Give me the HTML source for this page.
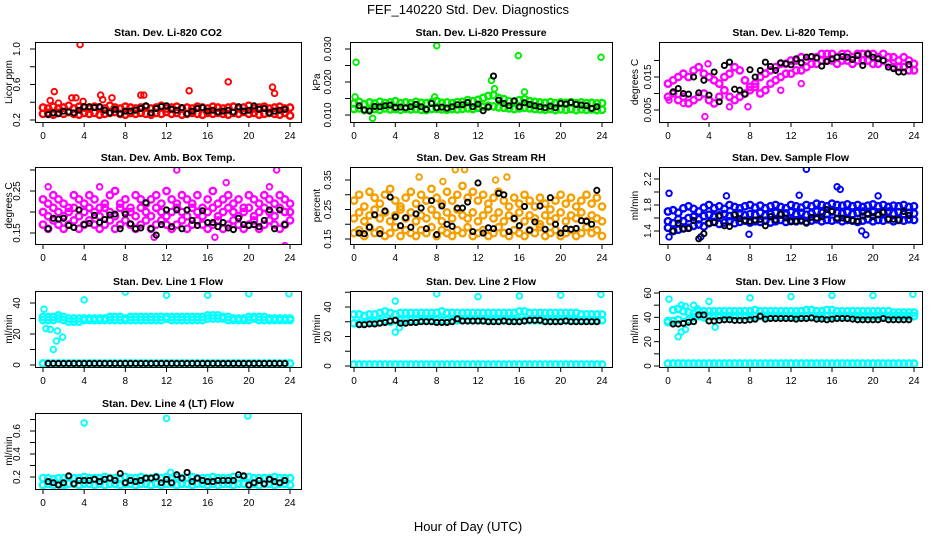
<!DOCTYPE html>
<html><head><meta charset="utf-8"><style>
html,body{margin:0;padding:0;background:#fff}
svg{display:block}
text{font-family:"Liberation Sans",sans-serif;fill:#000}
</style></head><body>
<svg id="chart" width="936" height="540" viewBox="0 0 936 540">
<text x="468" y="14" font-size="13" text-anchor="middle">FEF_140220  Std. Dev. Diagnostics</text>
<text x="468" y="531" font-size="13" text-anchor="middle">Hour of Day (UTC)</text>
</svg>
<script>
// ---------- data ----------
const xTicks = [0,4,8,12,16,20,24];
const titles = ["Stan. Dev. Li-820 CO2","Stan. Dev. Li-820 Pressure","Stan. Dev. Li-820 Temp.","Stan. Dev. Amb. Box Temp.","Stan. Dev. Gas Stream RH","Stan. Dev. Sample Flow","Stan. Dev. Line 1 Flow","Stan. Dev. Line 2 Flow","Stan. Dev. Line 3 Flow","Stan. Dev. Line 4 (LT) Flow"];
const yLabels = ["Licor ppm","kPa","degrees C","degrees C","percent","ml/min","ml/min","ml/min","ml/min","ml/min"];
const yTickVals = [[0.2,0.4,0.6,0.8,1.0],[0.010,0.015,0.020,0.025,0.030],[0.005,0.010,0.015,0.020],[0.15,0.20,0.25,0.30],[0.15,0.20,0.25,0.30,0.35],[1.4,1.6,1.8,2.0,2.2],[0,10,20,30,40],[0,10,20,30,40,50],[0,10,20,30,40,50,60],[0.2,0.3,0.4,0.5,0.6,0.7]];
const yTickLabels = [["0.2","","0.6","","1.0"],["0.010","","0.020","","0.030"],["0.005","","0.015",""],["0.15","","0.25",""],["0.15","","0.25","","0.35"],["1.4","","1.8","","2.2"],["0","","20","","40"],["0","","20","","40",""],["0","","20","","40","","60"],["0.2","","0.4","","0.6",""]];

const co2Hi=[0.34,0.33,0.35,0.33,0.34,0.36,0.33,0.35,0.34,0.33,0.35,0.34,0.33,0.36,0.34,0.33,0.35,0.34,0.33,0.34,0.35,0.33,0.34,0.36,0.33,0.34,0.35,0.33,0.34,0.33,0.35,0.34,0.33,0.35,0.34,0.33,0.34,0.35,0.33,0.34,0.36,0.33,0.34,0.35,0.33,0.34,0.35,0.33,0.34];
const co2Lo=[0.27,0.28,0.26,0.28,0.27,0.29,0.27,0.26,0.28,0.27,0.28,0.26,0.27,0.28,0.29,0.27,0.26,0.28,0.27,0.28,0.27,0.26,0.28,0.27,0.29,0.27,0.28,0.26,0.27,0.28,0.27,0.26,0.28,0.27,0.28,0.27,0.26,0.28,0.27,0.29,0.27,0.28,0.26,0.27,0.28,0.27,0.26,0.28,0.25];
const co2Blk=[0.26,0.28,0.27,0.30,0.29,0.28,0.31,0.35,0.35,0.34,0.35,0.31,0.28,0.32,0.27,0.30,0.30,0.31,0.33,0.36,0.28,0.33,0.35,0.36,0.32,0.31,0.34,0.27,0.30,0.33,0.34,0.30,0.31,0.29,0.30,0.31,0.29,0.35,0.30,0.31,0.36,0.32,0.33,0.28,0.30,0.31,0.32];
const co2Out=[[3.6,1.05],[1.1,0.52],[0.7,0.42],[2.8,0.45],[3.2,0.45],[5.6,0.48],[5.8,0.43],[6.7,0.45],[9.5,0.48],[9.8,0.48],[14.2,0.53],[18,0.63],[22.3,0.57],[22.5,0.5],[1.5,0.39],[3.9,0.41]];

const presHi=[0.0135,0.014,0.0133,0.0138,0.0135,0.014,0.0136,0.0138,0.0142,0.0136,0.0138,0.0135,0.014,0.0137,0.0136,0.0139,0.0142,0.0137,0.0138,0.0136,0.0139,0.014,0.0145,0.0142,0.0146,0.0152,0.0158,0.016,0.0152,0.0148,0.0142,0.014,0.0145,0.0148,0.0142,0.014,0.0138,0.0137,0.0139,0.0136,0.0138,0.0137,0.0139,0.0136,0.0138,0.0136,0.0137,0.0135,0.0136];
const presLo=[0.0118,0.012,0.0115,0.0117,0.0118,0.0116,0.012,0.0117,0.0118,0.0116,0.0119,0.0117,0.0118,0.0116,0.0115,0.0118,0.0119,0.0117,0.0116,0.0118,0.0117,0.0119,0.012,0.0118,0.0122,0.0125,0.0128,0.0126,0.0123,0.0122,0.012,0.0118,0.012,0.0122,0.012,0.0118,0.0117,0.0116,0.0118,0.0115,0.0117,0.0116,0.0118,0.0115,0.0117,0.0116,0.0117,0.0115,0.0116];
const presBlk=[0.0128,0.0115,0.0112,0.0126,0.0125,0.0128,0.013,0.0123,0.0124,0.0122,0.0125,0.0132,0.0125,0.0117,0.0135,0.0122,0.0124,0.0121,0.0125,0.0131,0.0131,0.0138,0.0125,0.0133,0.0113,0.0124,0.0218,0.0145,0.0135,0.0128,0.0143,0.0125,0.0137,0.0132,0.0128,0.0125,0.0122,0.0127,0.0122,0.0135,0.0133,0.0138,0.0132,0.0130,0.0128,0.012,0.0125];
const presOut=[[0.2,0.026],[8,0.031],[15.9,0.028],[23.9,0.0275],[13.3,0.0205],[13.6,0.018],[0.1,0.0155],[1.8,0.009],[16.5,0.017],[7.8,0.0155]];

const tempHi=[0.013,0.014,0.015,0.016,0.015,0.017,0.018,0.016,0.015,0.014,0.013,0.015,0.016,0.018,0.017,0.014,0.012,0.013,0.015,0.016,0.017,0.018,0.019,0.019,0.020,0.020,0.021,0.020,0.021,0.021,0.022,0.022,0.022,0.021,0.022,0.022,0.021,0.022,0.022,0.022,0.022,0.021,0.022,0.021,0.021,0.020,0.021,0.020,0.019];
const tempLo=[0.009,0.010,0.008,0.009,0.007,0.008,0.009,0.010,0.008,0.007,0.009,0.011,0.009,0.008,0.009,0.010,0.011,0.012,0.010,0.011,0.013,0.014,0.015,0.016,0.016,0.017,0.017,0.018,0.019,0.019,0.020,0.020,0.020,0.019,0.020,0.020,0.019,0.020,0.020,0.020,0.019,0.019,0.020,0.019,0.018,0.018,0.018,0.017,0.017];
const tempBlk=[0.0105,0.0115,0.0100,0.0098,0.0150,0.0102,0.0140,0.0095,0.0165,0.0075,0.0185,0.0195,0.0113,0.0110,0.0098,0.0172,0.0150,0.0170,0.0195,0.0182,0.0170,0.0193,0.0190,0.0187,0.0205,0.0193,0.0210,0.0212,0.0208,0.0183,0.0197,0.0205,0.0210,0.0212,0.0210,0.0203,0.0215,0.0185,0.0220,0.0210,0.0205,0.0200,0.0180,0.0175,0.0165,0.0165,0.0188];
const tempOut=[[3.6,0.003],[6.0,0.006],[0.1,0.008],[1.5,0.007],[3.9,0.019],[7.8,0.006],[13,0.013],[11,0.011]];

const ambHi=[0.23,0.22,0.24,0.23,0.22,0.21,0.24,0.23,0.22,0.24,0.23,0.21,0.22,0.24,0.25,0.22,0.23,0.21,0.24,0.23,0.22,0.23,0.24,0.22,0.25,0.23,0.22,0.24,0.23,0.22,0.24,0.21,0.23,0.25,0.22,0.23,0.24,0.22,0.23,0.21,0.24,0.23,0.22,0.24,0.23,0.22,0.24,0.23,0.22];
const ambMid=[0.20,0.19,0.21,0.20,0.19,0.20,0.21,0.19,0.20,0.21,0.20,0.19,0.21,0.20,0.19,0.21,0.20,0.20,0.19,0.21,0.20,0.19,0.21,0.20,0.19,0.20,0.21,0.20,0.19,0.21,0.20,0.19,0.20,0.21,0.19,0.20,0.21,0.20,0.19,0.20,0.21,0.19,0.20,0.21,0.20,0.19,0.21,0.20,0.20];
const ambLo=[0.17,0.16,0.18,0.17,0.16,0.17,0.18,0.16,0.17,0.18,0.17,0.16,0.17,0.18,0.16,0.17,0.18,0.17,0.16,0.17,0.18,0.16,0.17,0.18,0.17,0.16,0.17,0.18,0.16,0.17,0.18,0.17,0.16,0.17,0.18,0.16,0.17,0.18,0.17,0.16,0.17,0.18,0.16,0.17,0.18,0.17,0.16,0.17,0.18];
const ambBlk=[0.160,0.185,0.183,0.185,0.168,0.163,0.205,0.170,0.173,0.192,0.175,0.182,0.193,0.195,0.160,0.195,0.172,0.160,0.162,0.222,0.160,0.145,0.170,0.205,0.165,0.205,0.160,0.205,0.180,0.168,0.203,0.175,0.175,0.165,0.175,0.162,0.158,0.185,0.170,0.168,0.170,0.165,0.180,0.205,0.160,0.205,0.170];
const ambOut=[[13,0.30],[22.7,0.30],[23.5,0.12],[17.8,0.27],[22,0.26],[0.5,0.26],[5.5,0.26],[16.7,0.14],[10.8,0.14]];

const rhHi=[0.28,0.30,0.26,0.31,0.29,0.27,0.30,0.32,0.28,0.26,0.29,0.31,0.27,0.30,0.28,0.32,0.29,0.27,0.31,0.28,0.30,0.33,0.29,0.31,0.28,0.30,0.27,0.29,0.31,0.28,0.26,0.29,0.27,0.30,0.28,0.26,0.29,0.27,0.25,0.28,0.30,0.27,0.29,0.26,0.28,0.30,0.27,0.29,0.26];
const rhMid=[0.22,0.24,0.21,0.23,0.25,0.22,0.24,0.21,0.23,0.25,0.22,0.24,0.21,0.23,0.22,0.25,0.23,0.21,0.24,0.22,0.25,0.23,0.22,0.24,0.21,0.23,0.25,0.22,0.24,0.21,0.23,0.22,0.24,0.21,0.23,0.22,0.20,0.23,0.21,0.22,0.24,0.21,0.23,0.22,0.24,0.21,0.23,0.22,0.21];
const rhLo=[0.17,0.18,0.16,0.19,0.17,0.18,0.16,0.17,0.19,0.16,0.18,0.17,0.16,0.18,0.17,0.19,0.16,0.18,0.17,0.16,0.18,0.17,0.19,0.16,0.17,0.18,0.16,0.17,0.19,0.17,0.16,0.18,0.17,0.16,0.18,0.17,0.19,0.16,0.17,0.18,0.16,0.17,0.18,0.16,0.17,0.19,0.17,0.18,0.16];
const rhBlk=[0.170,0.168,0.190,0.232,0.168,0.245,0.292,0.225,0.195,0.222,0.190,0.235,0.255,0.185,0.280,0.165,0.262,0.200,0.193,0.255,0.255,0.275,0.175,0.340,0.170,0.188,0.185,0.305,0.300,0.175,0.220,0.195,0.260,0.180,0.208,0.262,0.183,0.290,0.200,0.170,0.185,0.183,0.186,0.212,0.210,0.200,0.315];
const rhOut=[[9.8,0.385],[10.7,0.385],[6.3,0.36],[8.6,0.345],[14.8,0.36],[13.7,0.35]];

const sfHi=[1.70,1.72,1.68,1.75,1.78,1.74,1.70,1.76,1.80,1.75,1.78,1.74,1.80,1.77,1.75,1.78,1.80,1.76,1.79,1.75,1.78,1.80,1.77,1.75,1.80,1.78,1.76,1.80,1.78,1.82,1.80,1.78,1.82,1.80,1.79,1.81,1.78,1.80,1.77,1.79,1.81,1.78,1.80,1.77,1.79,1.78,1.80,1.77,1.78];
const sfMid=[1.55,1.52,1.58,1.55,1.60,1.62,1.58,1.63,1.65,1.62,1.64,1.66,1.63,1.65,1.67,1.64,1.66,1.65,1.68,1.64,1.66,1.68,1.65,1.67,1.69,1.66,1.68,1.65,1.67,1.70,1.68,1.66,1.70,1.68,1.67,1.69,1.66,1.68,1.70,1.67,1.69,1.66,1.68,1.70,1.67,1.69,1.66,1.68,1.67];
const sfLo=[1.45,1.40,1.42,1.44,1.45,1.48,1.50,1.47,1.52,1.54,1.51,1.53,1.55,1.52,1.54,1.56,1.53,1.55,1.54,1.56,1.53,1.55,1.57,1.54,1.56,1.55,1.57,1.54,1.56,1.58,1.55,1.57,1.56,1.58,1.55,1.57,1.56,1.54,1.56,1.58,1.55,1.57,1.56,1.58,1.55,1.57,1.56,1.58,1.57];
const sfBlk=[1.40,1.52,1.43,1.44,1.56,1.28,1.36,1.52,1.53,1.63,1.48,1.47,1.65,1.59,1.56,1.55,1.57,1.58,1.48,1.62,1.57,1.66,1.60,1.54,1.55,1.55,1.52,1.61,1.60,1.62,1.73,1.70,1.60,1.60,1.58,1.56,1.55,1.63,1.66,1.62,1.65,1.69,1.58,1.58,1.57,1.70,1.64];
const sfOut=[[13.5,2.35],[16.5,2.08],[16.8,2.04],[0.1,1.98],[0.1,1.31],[3.2,1.31],[19.3,1.34],[18.9,1.40],[7.9,1.35],[12.8,1.95],[5.7,1.94],[20.5,1.94]];

const l1Hi=[31,31,31,32,31,30,30,30,30,30,30,30,30,31,31,31,30,31,31,31,31,31,31,31,31,31,31,31,31,31,31,31,32,32,32,31,31,30,30,30,31,31,31,31,30,30,30,30,30];
const l1Lo=[29,29,29,30,29,28,28,28,29,29,29,29,29,29,29,29,29,29,29,29,29,29,29,29,30,29,29,29,29,29,29,29,30,30,30,30,29,29,29,29,29,30,29,29,29,29,29,29,29];
const l1Base=[1,1,1,1,1,1,1,1,1,1,1,1,1,1,1,1,1,1,1,1,1,1,1,1,1,1,1,1,1,1,1,1,1,1,1,1,1,1,1,1,1,1,1,1,1,1,1,1,1];
const l1Blk=[1,1,1,1,1,1,1,1,1,1,1,1,1,1,1,1,1,1,1,1,1,1,1,1,1,1,1,1,1,1,1,1,1,1,1,1,1,1,1,1,1,1,1,1,1,1,1];
const l1Out=[[0.1,36],[0.3,23.5],[0.7,23],[1.4,22],[1.9,18],[1.3,15.5],[1.0,10],[4,42],[8,47],[12,45],[16,45],[20,46],[23.9,46]];

const l2Hi=[35,35,34,35,35,36,37,36,35,36,36,36,36,36,36,36,36,37,36,36,36,36,36,36,36,36,36,36,36,36,36,36,37,37,36,36,36,36,36,36,36,36,36,36,35,35,35,35,35];
const l2Lo=[29,29,29,30,30,30,31,30,31,31,31,31,31,31,31,31,31,31,31,31,31,31,31,31,31,31,31,31,31,31,31,31,31,31,31,31,31,31,31,31,31,31,31,31,31,31,31,31,31];
const l2Base=[1,1,1,1,1,1,1,1,1,1,1,1,1,1,1,1,1,1,1,1,1,1,1,1,1,1,1,1,1,1,1,1,1,1,1,1,1,1,1,1,1,1,1,1,1,1,1,1,1];
const l2Blk=[28,28,28.5,28.5,29,29.5,30.5,31,29,29,29.5,29.5,30,30,30,29.5,29.5,29.5,30,32,30.5,30.5,30.5,30.5,30.5,30,30,30,30.5,30,30,30,30.5,31,31,31,30,30,30,30,30.5,30,30,30,30,30,30];
const l2Out=[[4,44],[4,23],[4.4,26],[8,49],[12,47],[16,47.5],[20,48],[23.9,48.5]];

const l3Hi=[37,46,47,45,44,43,45,45,45,45,45,45,45,45,45,45,45,46,45,45,45,45,45,45,45,45,45,46,46,45,45,46,46,45,45,45,45,45,45,45,45,45,45,45,44,44,44,44,44];
const l3Lo=[36,37,38,36,38,40,41,40,41,41,41,41,41,41,41,41,41,41,41,41,41,41,41,41,41,41,41,41,41,41,41,41,41,41,41,41,41,41,41,41,41,41,41,41,41,41,41,41,41];
const l3Base=[2,2,2,2,2,2,2,2,2,2,2,2,2,2,2,2,2,2,2,2,2,2,2,2,2,2,2,2,2,2,2,2,2,2,2,2,2,2,2,2,2,2,2,2,2,2,2,2,2];
const l3Blk=[34.5,34.5,35,36,36.5,42,42,37,37,37.5,38,38,37.5,37.5,37.5,38,38.5,41,38.5,39,39,39,39,39,38.5,39,39,39.5,38.5,38.5,38,38.5,39,39,39,38.5,38,38,38,38,38,39,38,38,38,38,38];
const l3Out=[[0.1,55],[1.3,50],[1.7,49],[2.5,50],[2.9,47],[1,24],[1.3,28],[1.7,30],[4.6,32],[4,53],[8,56],[12,57],[16,58],[20,58],[23.9,59]];

const l4Hi=[0.19,0.19,0.18,0.19,0.19,0.2,0.19,0.19,0.2,0.19,0.19,0.19,0.2,0.19,0.19,0.19,0.2,0.19,0.19,0.2,0.19,0.19,0.2,0.19,0.2,0.19,0.2,0.19,0.19,0.2,0.19,0.19,0.19,0.2,0.19,0.19,0.19,0.2,0.19,0.2,0.2,0.19,0.19,0.19,0.19,0.2,0.19,0.19,0.19];
const l4Lo=[0.13,0.14,0.13,0.14,0.13,0.14,0.14,0.13,0.14,0.14,0.13,0.14,0.13,0.14,0.14,0.13,0.14,0.14,0.13,0.14,0.14,0.13,0.14,0.13,0.14,0.14,0.13,0.14,0.14,0.13,0.14,0.14,0.13,0.14,0.13,0.14,0.14,0.13,0.14,0.14,0.13,0.14,0.13,0.14,0.14,0.13,0.14,0.14,0.13];
const l4Blk=[0.16,0.15,0.13,0.15,0.21,0.14,0.17,0.17,0.17,0.18,0.16,0.18,0.19,0.17,0.23,0.15,0.17,0.16,0.17,0.19,0.19,0.20,0.15,0.18,0.15,0.22,0.19,0.24,0.16,0.19,0.17,0.16,0.16,0.17,0.17,0.17,0.17,0.22,0.21,0.13,0.15,0.17,0.14,0.18,0.16,0.15,0.17];
const l4Out=[[4,0.67],[12,0.71],[19.9,0.73],[12.4,0.24],[2,0.1]];

// ---------- layout (not data) ----------
const colX=[{l:35,r:301,x0:43,x24:290,tl:16,yl:8},{l:350,r:612,x0:354,x24:602,tl:327,yl:316},{l:659,r:922,x0:668,x24:914,tl:647,yl:634}];
const rowY=[{t:42,b:122},{t:167,b:244},{t:291,b:367},{t:413,b:489}];
const panels=[
 {c:0,r:0,cal:[0.2,120,1.0,49],col:"#ff0000",ser:[co2Hi,co2Lo],blk:co2Blk,out:co2Out},
 {c:1,r:0,cal:[0.010,115,0.030,49],col:"#00ee00",ser:[presHi,presLo],blk:presBlk,out:presOut},
 {c:2,r:0,cal:[0.005,110,0.015,77],col:"#ff00ff",ser:[tempHi,tempLo],blk:tempBlk,out:tempOut},
 {c:0,r:1,cal:[0.15,233,0.25,191],col:"#ff00ff",ser:[ambHi,ambMid,ambLo],blk:ambBlk,out:ambOut},
 {c:1,r:1,cal:[0.15,239,0.35,180],col:"#f5a000",ser:[rhHi,rhMid,rhLo],blk:rhBlk,out:rhOut},
 {c:2,r:1,cal:[1.4,231,2.2,179],col:"#0000ff",ser:[sfHi,sfMid,sfLo],blk:sfBlk,out:sfOut},
 {c:0,r:2,cal:[0,365,40,303],col:"#00ffff",ser:[l1Hi,l1Lo,l1Base],blk:l1Blk,out:l1Out},
 {c:1,r:2,cal:[0,366,40,307],col:"#00ffff",ser:[l2Hi,l2Lo,l2Base],blk:l2Blk,out:l2Out},
 {c:2,r:2,cal:[0,366,60,293],col:"#00ffff",ser:[l3Hi,l3Lo,l3Base],blk:l3Blk,out:l3Out},
 {c:0,r:3,cal:[0.2,477,0.6,431],col:"#00ffff",ser:[l4Hi,l4Lo],blk:l4Blk,out:l4Out}
];
const NS="http://www.w3.org/2000/svg";
const svg=document.getElementById('chart');
function mk(tag,attrs,parent){const e=document.createElementNS(NS,tag);for(const k in attrs)e.setAttribute(k,attrs[k]);(parent||svg).appendChild(e);return e;}
panels.forEach((p,i)=>{
  const C=colX[p.c],R=rowY[p.r];
  const xs=h=>C.x0+(C.x24-C.x0)*h/24;
  const ys=v=>p.cal[1]+(v-p.cal[0])*(p.cal[3]-p.cal[1])/(p.cal[2]-p.cal[0]);
  const g=mk('g',{});
  
  
  const defs=mk('clipPath',{id:'cp'+i},g);
  mk('rect',{x:C.l,y:R.t,width:C.r-C.l,height:R.b-R.t},defs);
  const pts=mk('g',{'clip-path':'url(#cp'+i+')'},g);
  
  
  p.ser.forEach(arr=>arr.forEach((v,k)=>{
    const c=mk('circle',{cx:xs(k*0.5),cy:ys(v),r:3.2,fill:'none',stroke:p.col,'stroke-width':2.4},pts);
    
    
  }));
  p.out.forEach(o=>{
    const c=mk('circle',{cx:xs(o[0]),cy:ys(o[1]),r:2.8,fill:'none',stroke:p.col,'stroke-width':1.9},pts);
    
    
  });
  p.blk.forEach((v,k)=>{
    const c=mk('circle',{cx:xs(0.5+k*0.5),cy:ys(v),r:2.6,fill:'none',stroke:'#000','stroke-width':1.9},pts);
    
    
  });
  const box=mk('rect',{x:C.l+0.5,y:R.t+0.5,width:C.r-C.l,height:R.b-R.t,fill:'none',stroke:'#000','stroke-width':1},g);
  
  
  xTicks.forEach(t=>{
    const x=xs(t);
    mk('line',{x1:x,y1:R.b,x2:x,y2:R.b+5,stroke:'#000'},g);
    const tx=mk('text',{x:x,y:R.b+17,'font-size':10,'text-anchor':'middle'},g);
    tx.textContent=t;
    
    
  });
  mk('line',{x1:xs(0),y1:R.b+0.5,x2:xs(24),y2:R.b+0.5,stroke:'#000'},g);
  const yv=yTickVals[i];
  yv.forEach((t,k)=>{
    const y=ys(t);
    mk('line',{x1:C.l-5,y1:y,x2:C.l,y2:y,stroke:'#000'},g);
    if(yTickLabels[i][k]){
      const tx=mk('text',{x:C.tl,y:y,'font-size':10,'text-anchor':'middle',transform:'rotate(-90 '+C.tl+' '+y+')',dy:4},g);
      tx.textContent=yTickLabels[i][k];
      
      
    }
  });
  const ym=(R.t+R.b)/2;
  const yl=mk('text',{x:C.yl,y:ym,'font-size':10,'text-anchor':'middle',transform:'rotate(-90 '+C.yl+' '+ym+')',dy:4},g);
  yl.textContent=yLabels[i];
  
  
  const tt=mk('text',{x:(C.l+C.r)/2,y:R.t-6,'font-size':10.5,'font-weight':'bold','text-anchor':'middle'},g);
  tt.textContent=titles[i];
  
  
});
</script>
</body></html>
